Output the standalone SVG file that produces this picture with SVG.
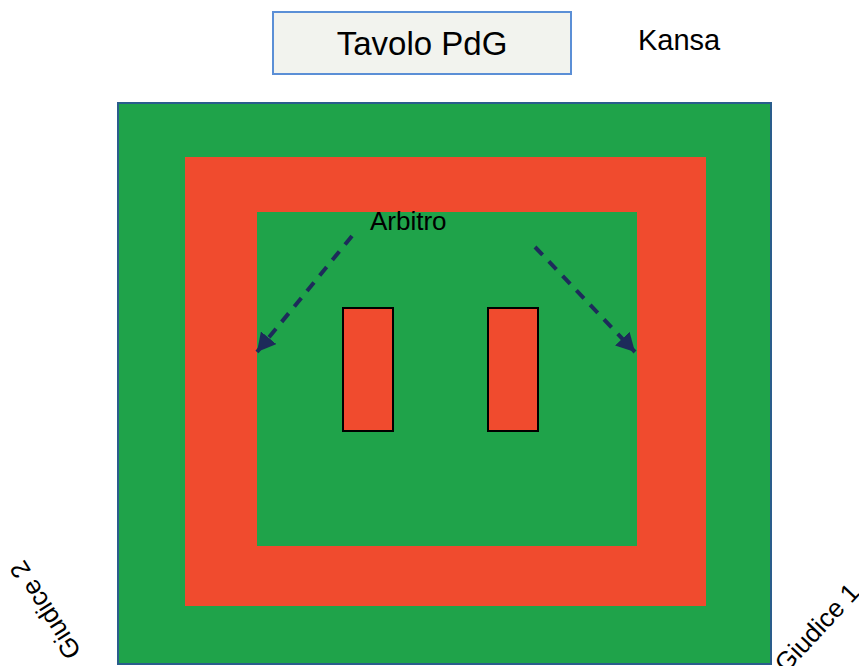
<svg xmlns="http://www.w3.org/2000/svg" width="859" height="666" viewBox="0 0 859 666">
<style>
.t{font-family:"Liberation Sans",Arial,sans-serif;fill:#000}
.green{fill:#1fa34a}
.red{fill:#f04b2e}
.conn{stroke:#1d2b5a;stroke-width:4;stroke-dasharray:11 9;fill:none}
</style>
<defs>
<marker id="ah" markerWidth="5" markerHeight="5" refX="4.6" refY="2.5" orient="auto" markerUnits="strokeWidth">
<path d="M0,0 L4.6,2.5 L0,5 Z" fill="#1d2b5a"/>
</marker>
</defs>
<rect width="859" height="666" fill="#fff"/>
<g id="tavolo">
<rect x="273" y="12" width="298" height="62" fill="#f2f3ee" stroke="#5b8fd6" stroke-width="2"/>
<text class="t" x="422" y="55" font-size="33" text-anchor="middle">Tavolo PdG</text>
</g>
<g id="kansa"><text class="t" x="638" y="50" font-size="29">Kansa</text></g>
<g id="campo">
<rect class="green" x="118" y="103" width="653" height="561" stroke="#2a5d8c" stroke-width="2"/>
<rect class="red" x="185" y="157" width="521" height="449"/>
<rect class="green" x="257" y="212" width="380" height="334"/>
</g>
<g id="panchina1"><rect class="red" x="343" y="308" width="50" height="123" stroke="#000" stroke-width="2"/></g>
<g id="panchina2"><rect class="red" x="488" y="308" width="50" height="123" stroke="#000" stroke-width="2"/></g>
<g id="arbitro"><text class="t" x="370" y="230" font-size="26">Arbitro</text></g>
<g id="giudice2"><text class="t" font-size="26" transform="translate(82,652) rotate(-122)">Giudice 2</text></g>
<g id="giudice1"><text class="t" font-size="26" transform="translate(786,674) rotate(-47)">Giudice 1</text></g>
<g id="connectors">
<path class="conn" d="M352,236 L257,352" marker-end="url(#ah)"/>
<path class="conn" d="M535,247 L635,352" marker-end="url(#ah)"/>
</g>
</svg>
